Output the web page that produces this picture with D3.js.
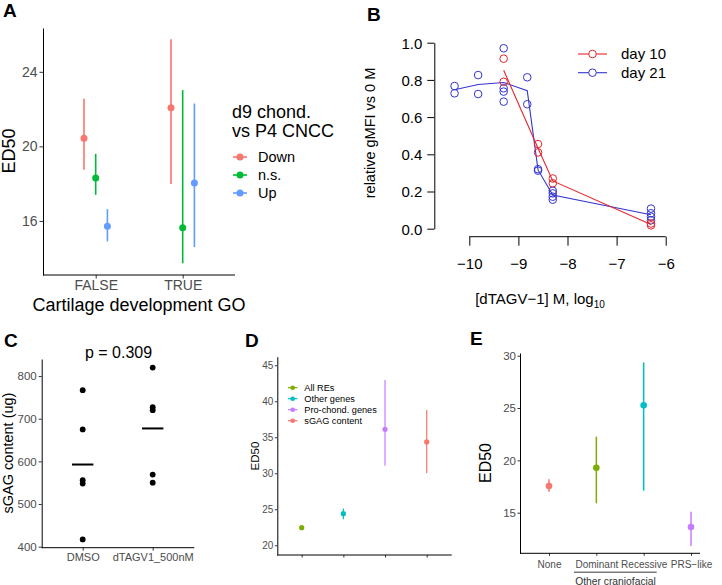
<!DOCTYPE html>
<html><head><meta charset="utf-8">
<script src="https://cdn.jsdelivr.net/npm/d3@7"></script>
<style>
body{margin:0;background:#fff}
svg{display:block;font-family:"Liberation Sans",Arial,Helvetica,sans-serif}
</style>
</head><body>
<svg id="c" width="722" height="585"></svg>
<script>
// ---------------- DATA ----------------
// Panel A
const aGroups = ["FALSE", "TRUE"];
const aSeries = ["Down", "n.s.", "Up"];
const aColors = ["#F8766D", "#00BA38", "#619CFF"];
const aEst   = [[20.43, 18.30, 15.72], [22.07, 15.64, 18.04]];
const aLower = [[18.74, 17.40, 14.90], [17.98, 13.73, 14.60]];
const aUpper = [[22.55, 19.60, 16.63], [25.75, 23.02, 22.30]];
const aYTicks = [16, 20, 24];

// Panel B
const bXTicks = [-10, -9, -8, -7, -6];
const bYTicks = [0, 0.2, 0.4, 0.6, 0.8, 1.0];
const bSeries = ["day 10", "day 21"];
const bColors = ["#E3262B", "#3535D0"];
const bDay10Dose  = [-9.3, -9.3, -8.6, -8.6, -8.3, -8.3, -6.3, -6.3];
const bDay10Value = [0.914, 0.79, 0.455, 0.41, 0.27, 0.244, 0.028, 0.018];
const bDay21Dose  = [-10.3, -10.3, -9.82, -9.82, -9.3, -9.3, -9.3, -9.3, -8.82, -8.82, -8.6, -8.6, -8.3, -8.3, -8.3, -8.3, -6.3, -6.3, -6.3, -6.3];
const bDay21Value = [0.767, 0.728, 0.826, 0.724, 0.97, 0.755, 0.737, 0.683, 0.814, 0.669, 0.32, 0.312, 0.204, 0.19, 0.172, 0.156, 0.108, 0.083, 0.065, 0.045];

// Panel C
const cGroups = ["DMSO", "dTAGV1_500nM"];
const cDMSO = [767, 675, 556, 548, 417];
const cDTAG = [820, 727, 720, 569, 550];
const cYTicks = [400, 500, 600, 700, 800];
const cTitle = "p = 0.309";

// Panel D
const dCats = ["All REs", "Other genes", "Pro-chond. genes", "sGAG content"];
const dColors = ["#7CAE00", "#00BFC4", "#C77CFF", "#F8766D"];
const dEst   = [22.44, 24.39, 36.10, 34.35];
const dLower = [22.20, 23.60, 31.06, 30.00];
const dUpper = [22.70, 25.10, 42.96, 38.80];
const dYTicks = [20, 25, 30, 35, 40, 45];

// Panel E
const eCats = ["None", "Dominant", "Recessive", "PRS\u2212like"];
const eColors = ["#F8766D", "#7CAE00", "#00BFC4", "#C77CFF"];
const eEst   = [17.55, 19.30, 25.26, 13.63];
const eLower = [17.00, 15.90, 17.10, 11.82];
const eUpper = [18.19, 22.26, 29.36, 15.10];
const eYTicks = [15, 20, 25, 30];

// ---------------- DRAW ----------------
const svg = d3.select("#c");
const GREY = "#4D4D4D", TICK = "#333333";

function styleAxis(g, fs, col, tickCol) {
  g.selectAll("text").attr("font-size", fs).attr("fill", col).attr("font-family", null);
  g.selectAll(".tick line").attr("stroke", tickCol);
  g.selectAll(".domain").attr("stroke", "#000");
  g.attr("font-family", null);
}
function panelLetter(t, x, y) {
  svg.append("text").text(t).attr("x", x).attr("y", y)
    .attr("font-size", 19).attr("font-weight", "bold");
}
function rotLabel(t, x, y, fs) {
  svg.append("text").text(t).attr("transform", `translate(${x},${y}) rotate(-90)`)
    .attr("text-anchor", "middle").attr("font-size", fs);
}

// ===== Panel A =====
{
  const yA = d3.scaleLinear().domain([13.1, 26.35]).range([275, 28]);
  const xA = d3.scalePoint().domain(aGroups).range([95.7, 182.7]);
  const dodge = d3.scalePoint().domain(aSeries).range([-11.7, 11.7]);
  const gy = svg.append("g").attr("transform", "translate(43,0)")
    .call(d3.axisLeft(yA).tickValues(aYTicks).tickSize(3.5).tickSizeOuter(0).tickPadding(2));
  styleAxis(gy, 14, GREY, TICK);
  const gx = svg.append("g").attr("transform", "translate(0,275)")
    .call(d3.axisBottom(xA).tickSize(3.5).tickPadding(1.5));
  gx.select(".domain").remove();
  styleAxis(gx, 14, GREY, TICK);
  svg.append("line").attr("x1", 43).attr("x2", 235).attr("y1", 275).attr("y2", 275).attr("stroke", "#000");
  const gp = svg.append("g");
  aGroups.forEach((grp, i) => {
    aSeries.forEach((s, j) => {
      const x = xA(grp) + dodge(s);
      gp.append("line").attr("x1", x).attr("x2", x)
        .attr("y1", yA(aLower[i][j])).attr("y2", yA(aUpper[i][j]))
        .attr("stroke", aColors[j]).attr("stroke-width", 1.6);
      gp.append("circle").attr("cx", x).attr("cy", yA(aEst[i][j])).attr("r", 3.5).attr("fill", aColors[j]);
    });
  });
  svg.append("text").text("Cartilage development GO").attr("x", 139).attr("y", 311)
    .attr("text-anchor", "middle").attr("font-size", 18);
  rotLabel("ED50", 15, 151, 18);
  // legend
  svg.append("text").text("d9 chond.").attr("x", 232).attr("y", 118).attr("font-size", 18);
  svg.append("text").text("vs P4 CNCC").attr("x", 232).attr("y", 136.5).attr("font-size", 18);
  aSeries.forEach((s, j) => {
    const cy = 157 + j * 18;
    svg.append("line").attr("x1", 233).attr("x2", 247).attr("y1", cy).attr("y2", cy)
      .attr("stroke", aColors[j]).attr("stroke-width", 1.6);
    svg.append("circle").attr("cx", 240).attr("cy", cy).attr("r", 3.5).attr("fill", aColors[j]);
    svg.append("text").text(s).attr("x", 258).attr("y", cy + 5.3).attr("font-size", 14.5);
  });
  panelLetter("A", 3, 17);
}

// ===== Panel B =====
{
  const xB = d3.scaleLinear().domain([-10, -6]).range([469.3, 665.7]);
  const yB = d3.scaleLinear().domain([0, 1]).range([228.7, 42.7]);
  const minus = s => s.replace("-", "\u2212");
  const gy = svg.append("g").attr("transform", "translate(434.3,0)")
    .call(d3.axisLeft(yB).tickValues(bYTicks).tickFormat(d3.format(".1f")).tickSize(7).tickSizeOuter(0).tickPadding(5));
  gy.selectAll("text").attr("dy", "0.36em");
  styleAxis(gy, 15, "#000", "#000");
  const gx = svg.append("g").attr("transform", "translate(0,236.7)")
    .call(d3.axisBottom(xB).tickValues(bXTicks).tickFormat(d => minus(String(d))).tickSize(9).tickSizeOuter(0).tickPadding(13));
  styleAxis(gx, 15, "#000", "#000");
  gx.select(".domain").attr("d", `M${xB(-10)},0H${xB(-6)}`);

  const series = [[bDay21Dose, bDay21Value, bColors[1]], [bDay10Dose, bDay10Value, bColors[0]]];
  series.forEach(([ds, vs, col]) => {
    const means = d3.rollups(ds.map((d, i) => [d, vs[i]]), v => d3.mean(v, e => e[1]), e => e[0])
      .sort((a, b) => a[0] - b[0]);
    svg.append("path").attr("d", d3.line().x(d => xB(d[0])).y(d => yB(d[1]))(means))
      .attr("fill", "none").attr("stroke", col).attr("stroke-width", 1.1);
    ds.forEach((d, i) => {
      svg.append("circle").attr("cx", xB(d)).attr("cy", yB(vs[i])).attr("r", 3.8)
        .attr("fill", "none").attr("stroke", col).attr("stroke-width", 1);
    });
  });
  // legend
  bSeries.forEach((s, i) => {
    const cy = 54 + i * 18.7;
    svg.append("line").attr("x1", 578).attr("x2", 607).attr("y1", cy).attr("y2", cy)
      .attr("stroke", bColors[i]).attr("stroke-width", 1.1);
    svg.append("circle").attr("cx", 592.5).attr("cy", cy).attr("r", 3.8)
      .attr("fill", "#fff").attr("stroke", bColors[i]);
    svg.append("text").text(s).attr("x", 621).attr("y", cy + 5.3).attr("font-size", 15);
  });
  const xt = svg.append("text").attr("x", 540).attr("y", 304).attr("text-anchor", "middle").attr("font-size", 15);
  xt.append("tspan").text("[dTAGV\u22121] M, log");
  xt.append("tspan").text("10").attr("font-size", 10).attr("dy", 4);
  rotLabel("relative gMFI vs 0 M", 375, 133, 14.5);
  panelLetter("B", 367, 21);
}

// ===== Panel C =====
{
  const yC = d3.scaleLinear().domain([397.6, 840]).range([547.7, 359]);
  const xC = d3.scalePoint().domain(cGroups).range([82.7, 152.7]);
  const gy = svg.append("g").attr("transform", "translate(41.7,0)")
    .call(d3.axisLeft(yC).tickValues(cYTicks).tickSize(3).tickSizeOuter(0).tickPadding(2));
  styleAxis(gy, 11.5, GREY, TICK);
  const gx = svg.append("g").attr("transform", "translate(0,547.7)")
    .call(d3.axisBottom(xC).tickSize(3).tickPadding(2.5));
  gx.select(".domain").remove();
  styleAxis(gx, 11, GREY, TICK);
  svg.append("line").attr("x1", 41.7).attr("x2", 194.3).attr("y1", 547.7).attr("y2", 547.7).attr("stroke", "#000");
  [cDMSO, cDTAG].forEach((vals, i) => {
    const x = xC(cGroups[i]);
    vals.forEach(v => svg.append("circle").attr("cx", x).attr("cy", yC(v)).attr("r", 2.9).attr("fill", "#000"));
    const m = d3.mean(vals);
    svg.append("line").attr("x1", x - 10.7).attr("x2", x + 10.7).attr("y1", yC(m)).attr("y2", yC(m))
      .attr("stroke", "#000").attr("stroke-width", 2);
  });
  svg.append("text").text(cTitle).attr("x", 118.5).attr("y", 357.5).attr("text-anchor", "middle").attr("font-size", 16);
  rotLabel("sGAG content (ug)", 13, 453, 14.5);
  panelLetter("C", 4, 347);
}

// ===== Panel D =====
{
  const yD = d3.scaleLinear().domain([18.65, 46.19]).range([555, 356.7]);
  const xD = d3.scalePoint().domain(dCats).range([301.7, 426.7]);
  const gy = svg.append("g").attr("transform", "translate(277.3,0)")
    .call(d3.axisLeft(yD).tickValues(dYTicks).tickSize(2.5).tickSizeOuter(0).tickPadding(1.5));
  styleAxis(gy, 10, GREY, TICK);
  const gx = svg.append("g").attr("transform", "translate(0,555)")
    .call(d3.axisBottom(xD).tickSize(2.5).tickFormat(""));
  gx.select(".domain").remove();
  styleAxis(gx, 10, GREY, TICK);
  svg.append("line").attr("x1", 277.3).attr("x2", 451.7).attr("y1", 555).attr("y2", 555).attr("stroke", "#000");
  dCats.forEach((c, i) => {
    const x = xD(c);
    svg.append("line").attr("x1", x).attr("x2", x).attr("y1", yD(dLower[i])).attr("y2", yD(dUpper[i]))
      .attr("stroke", dColors[i]).attr("stroke-width", 1.2);
    svg.append("circle").attr("cx", x).attr("cy", yD(dEst[i])).attr("r", 2.6).attr("fill", dColors[i]);
    const cy = 387.7 + i * 11;
    svg.append("line").attr("x1", 288).attr("x2", 297.4).attr("y1", cy).attr("y2", cy)
      .attr("stroke", dColors[i]).attr("stroke-width", 1.2);
    svg.append("circle").attr("cx", 292.7).attr("cy", cy).attr("r", 2.3).attr("fill", dColors[i]);
    svg.append("text").text(c).attr("x", 304.3).attr("y", cy + 3.4).attr("font-size", 9.2);
  });
  rotLabel("ED50", 259, 456, 11.5);
  panelLetter("D", 245, 347);
}

// ===== Panel E =====
{
  const yE = d3.scaleLinear().domain([11.12, 30.26]).range([553.3, 353]);
  const xE = d3.scalePoint().domain(eCats).range([549, 691]);
  const gy = svg.append("g").attr("transform", "translate(520,0)")
    .call(d3.axisLeft(yE).tickValues(eYTicks).tickSize(2.5).tickSizeOuter(0).tickPadding(1.5));
  styleAxis(gy, 11.5, GREY, TICK);
  const gx = svg.append("g").attr("transform", "translate(0,553.3)")
    .call(d3.axisBottom(xE).tickSize(2.5).tickPadding(5));
  gx.select(".domain").remove();
  styleAxis(gx, 10, GREY, TICK);
  svg.append("line").attr("x1", 520).attr("x2", 700).attr("y1", 553.3).attr("y2", 553.3).attr("stroke", "#000");
  eCats.forEach((c, i) => {
    const x = xE(c);
    svg.append("line").attr("x1", x).attr("x2", x).attr("y1", yE(eLower[i])).attr("y2", yE(eUpper[i]))
      .attr("stroke", eColors[i]).attr("stroke-width", 1.5);
    svg.append("circle").attr("cx", x).attr("cy", yE(eEst[i])).attr("r", 3.3).attr("fill", eColors[i]);
  });
  svg.append("line").attr("x1", 574).attr("x2", 656.7).attr("y1", 572.3).attr("y2", 572.3)
    .attr("stroke", "#7a7a7a").attr("stroke-width", 1.5);
  svg.append("text").text("Other craniofacial").attr("x", 615.5).attr("y", 584.5)
    .attr("text-anchor", "middle").attr("font-size", 10.3).attr("fill", "#333");
  rotLabel("ED50", 491, 463, 16);
  panelLetter("E", 470, 345);
}
</script>
</body></html>
